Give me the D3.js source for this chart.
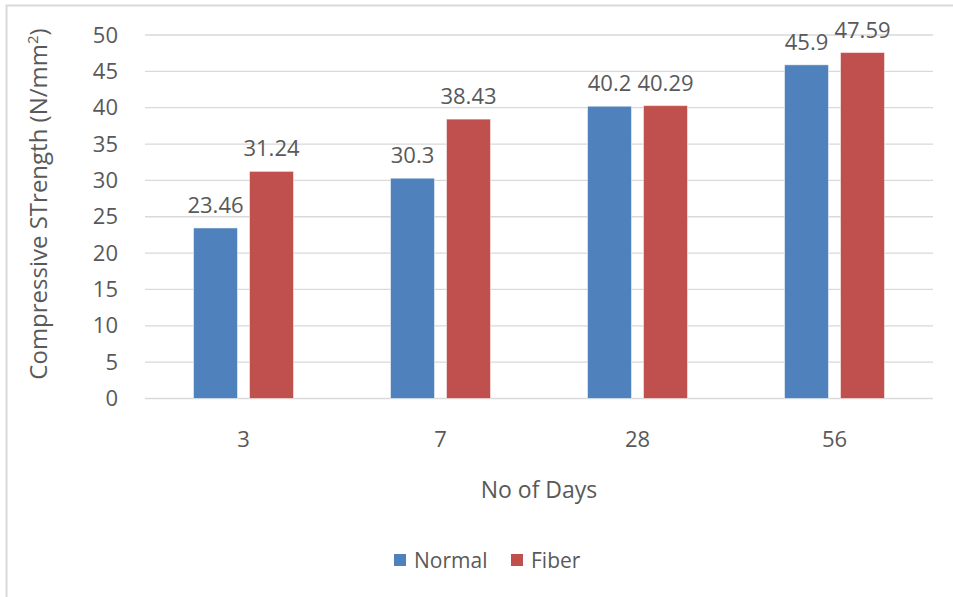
<!DOCTYPE html>
<html>
<head>
<meta charset="utf-8">
<script src="https://cdn.jsdelivr.net/npm/d3@7"></script>
<style>
  body { margin: 0; background: #fff; }
  text { font-family: "Open Sans", "Noto Sans", sans-serif; fill: #595959; }
</style>
</head>
<body>
<div id="chart"></div>
<script>
// chart data
const days = ['3', '7', '28', '56'];
const normalValues = [23.46, 30.3, 40.2, 45.9];
const fiberValues = [31.24, 38.43, 40.29, 47.59];
const seriesNames = ['Normal', 'Fiber'];
const seriesColors = ['#4F81BD', '#C0504D'];
const yTicks = [0, 5, 10, 15, 20, 25, 30, 35, 40, 45, 50];

const W = 953, H = 597;
const margin = { top: 35, right: 20, bottom: 198.5, left: 145 };
const plotW = 933 - margin.left;
const plotH = 398.5 - margin.top;
const fs = "22px";

const svg = d3.select("#chart").append("svg")
    .attr("width", W)
    .attr("height", H);

// outer chart border (runs off the right / bottom edge)
svg.append("rect")
    .attr("x", 6.5).attr("y", 5.5)
    .attr("width", W + 20).attr("height", H + 20)
    .attr("fill", "none")
    .attr("stroke", "#d9d9d9")
    .attr("stroke-width", 2);

const g = svg.append("g")
    .attr("transform", `translate(${margin.left},${margin.top})`);

let x = d3.scaleBand().domain(days).range([0, plotW]);
let y = d3.scaleLinear().domain([0, 50]).range([plotH, 0]);

// gridlines
g.selectAll(".grid").data(yTicks).enter()
    .append("line")
    .attr("x1", 0).attr("x2", plotW)
    .attr("y1", d => y(d)).attr("y2", d => y(d))
    .attr("stroke", "#d9d9d9")
    .attr("stroke-width", 1.3);

// y axis labels
let yAxis = g.append("g")
    .call(d3.axisLeft(y).tickValues(yTicks).tickSize(0).tickPadding(27));
yAxis.select(".domain").remove();
yAxis.selectAll("text").style("font-size", fs).attr("fill", "#595959")
    .style("font-family", '"Open Sans", sans-serif');

// x axis labels
let xAxis = g.append("g")
    .attr("transform", `translate(0,${plotH})`)
    .call(d3.axisBottom(x).tickSize(0).tickPadding(33));
xAxis.select(".domain").remove();
xAxis.selectAll("text").style("font-size", fs).attr("fill", "#595959")
    .style("font-family", '"Open Sans", sans-serif');

// bars
const barW = 44, gap = 12;
const offsets = [-(gap / 2 + barW), gap / 2];
const allSeries = [normalValues, fiberValues];

allSeries.forEach(function (vals, s) {
    const data = days.map((d, i) => ({ day: d, value: vals[i] }));
    g.selectAll(".bar" + s).data(data).enter()
        .append("rect")
        .attr("x", d => x(d.day) + x.bandwidth() / 2 + offsets[s])
        .attr("y", d => y(d.value))
        .attr("width", barW)
        .attr("height", d => plotH - y(d.value))
        .attr("fill", seriesColors[s])
        .attr("stroke", "#ffffff")
        .attr("stroke-opacity", 0.5)
        .attr("stroke-width", 1);

    g.selectAll(".lbl" + s).data(data).enter()
        .append("text")
        .attr("x", d => x(d.day) + x.bandwidth() / 2 + offsets[s] + barW / 2)
        .attr("y", d => y(d.value) - 15)
        .attr("text-anchor", "middle")
        .style("font-size", fs)
        .text(d => d.value);
});

// axis titles
svg.append("text")
    .attr("x", 539)
    .attr("y", 498)
    .attr("text-anchor", "middle")
    .style("font-size", "23px")
    .text("No of Days");

const yTitle = svg.append("text")
    .attr("transform", "translate(47,204) rotate(-90)")
    .attr("text-anchor", "middle")
    .style("font-size", "24px");
yTitle.append("tspan").text("Compressive STrength (N/mm");
yTitle.append("tspan").attr("dy", -9).style("font-size", "15px").text("2");
yTitle.append("tspan").attr("dy", 9).text(")");

// legend
const legendX = [394, 511];
const legend = svg.selectAll(".legend").data(seriesNames).enter()
    .append("g")
    .attr("transform", (d, i) => `translate(${legendX[i]},554)`);
legend.append("rect")
    .attr("width", 12).attr("height", 12)
    .attr("fill", (d, i) => seriesColors[i]);
legend.append("text")
    .attr("x", 20).attr("y", 14)
    .style("font-size", "21px")
    .text(d => d);
</script>
</body>
</html>
